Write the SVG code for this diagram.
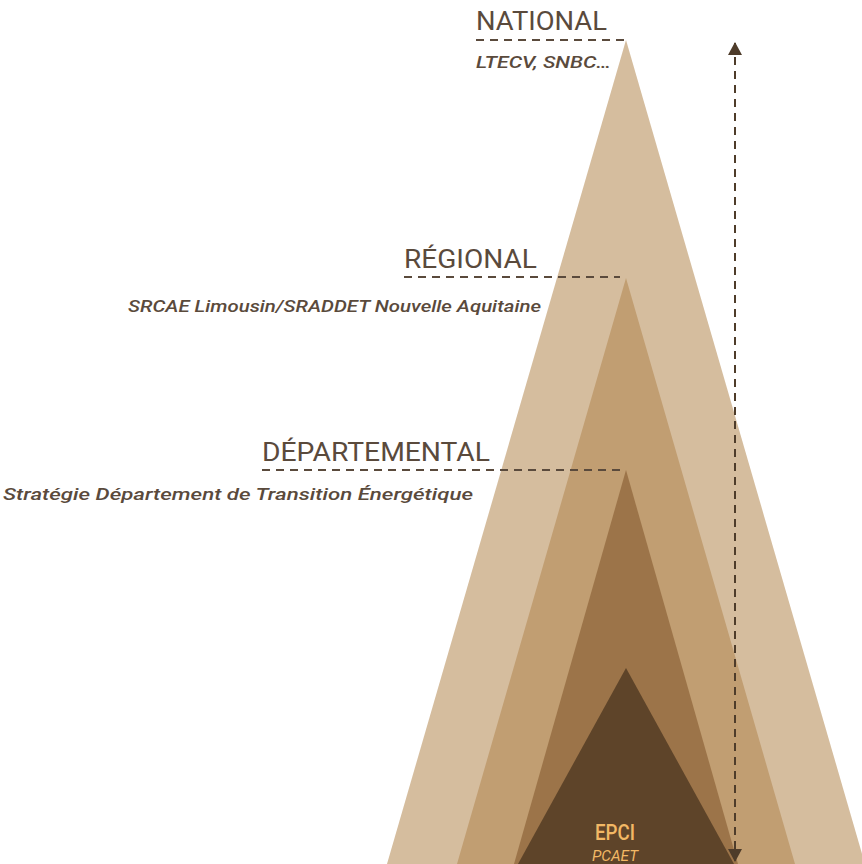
<svg xmlns="http://www.w3.org/2000/svg" width="862" height="864" viewBox="0 0 862 864">
<style>
.lbl{font-family:Roboto,"Liberation Sans",sans-serif;fill:#5a4a3c;font-size:25px;}
.sub{font-family:Roboto,"Liberation Sans",sans-serif;fill:#5a4a3c;font-size:16px;font-style:italic;font-weight:500;}
.dash{stroke:#5a4a3c;stroke-width:2;stroke-dasharray:8 6;fill:none;}
</style>
<defs>
<marker id="ah" viewBox="0 0 13 14" refX="12" refY="7" markerWidth="13" markerHeight="14" markerUnits="userSpaceOnUse" orient="auto-start-reverse">
<path d="M0 0 L13 7 L0 14 Z" fill="#4e3c2a"/>
</marker>
</defs>
<rect width="862" height="864" fill="#ffffff"/>
<g id="national">
<polygon points="626,40 865,864 387,864" fill="#d5bd9e"/>
</g>
<g id="regional">
<polygon points="626,278 795,864 457,864" fill="#c19e72"/>
</g>
<g id="departemental">
<polygon points="626,470 738,864 514,864" fill="#9c7449"/>
</g>
<g id="epci">
<polygon points="626,668 734,864 518,864" fill="#5e4429"/>
<text x="615" y="840" text-anchor="middle" font-family="Roboto,'Liberation Sans',sans-serif" font-size="22" font-weight="500" fill="#f2b865" textLength="40" lengthAdjust="spacingAndGlyphs">EPCI</text>
<text x="615" y="861" text-anchor="middle" font-family="Roboto,'Liberation Sans',sans-serif" font-size="14" font-style="italic" fill="#f2b865" textLength="46" lengthAdjust="spacingAndGlyphs">PCAET</text>
</g>
<g id="labels">
<text class="lbl" x="476" y="30" textLength="131" lengthAdjust="spacingAndGlyphs">NATIONAL</text>
<text class="sub" x="476" y="68" textLength="135" lengthAdjust="spacingAndGlyphs">LTECV, SNBC…</text>
<text class="lbl" x="404" y="268" textLength="133" lengthAdjust="spacingAndGlyphs">RÉGIONAL</text>
<text class="sub" x="128" y="312" textLength="413" lengthAdjust="spacingAndGlyphs">SRCAE Limousin/SRADDET Nouvelle Aquitaine</text>
<text class="lbl" x="262" y="461" textLength="228" lengthAdjust="spacingAndGlyphs">DÉPARTEMENTAL</text>
<text class="sub" x="3" y="500" textLength="470" lengthAdjust="spacingAndGlyphs">Stratégie Département de Transition Énergétique</text>
</g>
<g id="connectors">
<line class="dash" x1="476" y1="40" x2="625" y2="40"/>
<line class="dash" x1="404" y1="277" x2="620" y2="277"/>
<line class="dash" x1="262" y1="470" x2="625" y2="470"/>
<line x1="735" y1="43" x2="735" y2="861" stroke="#4e3c2a" stroke-width="2" stroke-dasharray="8 6" marker-start="url(#ah)" marker-end="url(#ah)"/>
</g>
</svg>
